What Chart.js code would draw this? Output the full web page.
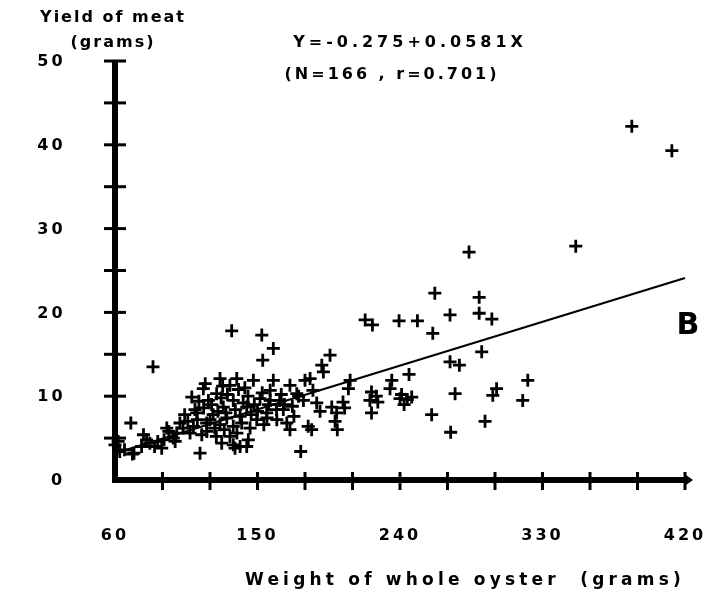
<!DOCTYPE html>
<html><head><meta charset="utf-8">
<script src="https://cdn.jsdelivr.net/npm/chart.js@4.4.0/dist/chart.umd.min.js"></script>
<style>html,body{margin:0;padding:0;background:#fff;}#wrap{width:704px;height:606px;position:relative;}</style>
</head><body><div id="wrap"><canvas id="c" width="704" height="606"></canvas></div>
<script>
// Weight of whole oyster (g)
const weightX = [
 60,62,63,66,70,71,72,76.8,78,80,82,84,85,87,89.5,91,92.7,94,96.8,98,99,101,103,104,106,107.4,108.5,110.5,
 109.5,111.6,112,113,113.7,114.8,115.8,116,117,117.9,118,119,120,121,122,123,124,124.2,125,126.3,126.3,127,127.4,128,128.4,129,130,130.6,131,132.6,132.6,133.7,134.7,134.7,134.7,135.8,136,136.9,137,138,139,139,140,141,142,143.2,143.2,144,144.2,145.3,146,147.4,148,149.5,150,151.6,152.7,153,153.3,154,155.8,156,157,158,158,160,160,162,162.2,
 164,165,166.3,167,168.5,170.5,170.5,172,173,174.8,176,177.3,179,180,182,183.2,184.2,185,187.4,189.5,190.6,191.6,195.8,196.9,199,200,200.4,204,205,207.4,208.5,
 218,222.6,222,221,225,226,222,233.7,234.8,239.4,240,241,242.6,244.6,245.7,247.4,251,260,260.7,262,271.6,271.6,272,274.8,277.5,283.6,290,290,291.6,293.7,298,298.6,301,317.5,320.7,351,386.4,411.7
];
// Yield of meat (g)
const yieldY = [
 4.2,4.6,3.4,3.6,6.8,3.1,3.2,4.0,5.4,4.8,4.4,13.5,4.0,4.6,3.8,4.8,6.2,5.8,5.0,4.6,5.6,6.8,6.2,7.8,7.0,5.6,9.9,8.4,
 6.4,8.0,7.2,9.4,3.2,5.4,10.9,8.6,11.5,6.8,5.8,9.5,7.2,9.0,7.8,6.2,5.2,10.3,8.2,12.1,6.6,9.8,4.4,11.2,8.7,6.0,8.0,7.4,10.2,11.3,5.2,17.8,9.5,6.4,4.2,3.8,8.4,12.1,5.6,10.8,7.6,4.0,6.8,9.2,11.0,8.7,4.0,10.0,4.8,6.2,7.8,11.9,9.0,7.2,8.2,9.7,17.3,10.4,14.3,6.6,8.0,7.4,9.0,10.7,9.5,15.7,11.9,8.4,7.2,
 9.5,10.2,8.4,9.0,6.8,11.3,6.0,8.8,7.6,10.3,10.0,3.4,9.5,11.9,6.4,12.1,6.0,10.7,9.2,8.2,13.7,12.9,14.9,8.7,7.0,8.0,6.0,9.3,8.6,10.9,11.9,
 19.1,18.5,10.5,9.5,10.0,9.3,8.0,10.9,11.9,19.0,9.7,10.2,9.0,9.6,12.6,9.9,19.0,7.8,17.5,22.3,19.7,14.1,5.7,10.3,13.7,27.2,21.8,19.9,15.3,7.0,19.2,10.1,10.9,9.5,11.9,27.9,42.2,39.3
];
// Regression line endpoints
const fitLineX = [60, 420];
const fitLineY = [3.2, 24.1];
const xTickLabels = [60, 150, 240, 330, 420];
const yTickLabels = [0, 10, 20, 30, 40, 50];
const yAxisTitle = ['Yield of meat', '(grams)'];
const xAxisTitle = 'Weight of whole oyster  (grams)';
const equationLines = ['Y=-0.275+0.0581X', '(N=166 , r=0.701)'];
const panelLabel = 'B';

const FONT = "'DejaVu Sans'";
const scatterData = weightX.map((x, i) => ({x: x, y: yieldY[i]}));
const lineData = fitLineX.map((x, i) => ({x: x, y: fitLineY[i]}));

const spacing = {
  id: 'spacing',
  beforeLayout(c) { c.ctx.letterSpacing = '3px'; },
  beforeDraw(c) { c.ctx.letterSpacing = '3px'; }
};

const axesPlugin = {
  id: 'axesPlugin',
  beforeDatasetsDraw(c) {
    const ctx = c.ctx, xs = c.scales.x, ys = c.scales.y;
    const x0 = xs.getPixelForValue(60), y0 = ys.getPixelForValue(0);
    const xEnd = xs.getPixelForValue(420), yTop = ys.getPixelForValue(50);
    ctx.save();
    ctx.strokeStyle = '#000';
    ctx.lineWidth = 6;
    ctx.lineJoin = 'miter';
    ctx.beginPath();
    ctx.moveTo(x0, yTop - 1);
    ctx.lineTo(x0, y0);
    ctx.lineTo(xEnd + 3, y0);
    ctx.stroke();
    ctx.lineWidth = 3;
    ys.ticks.forEach(t => {
      if (t.value === 0) return;
      const py = ys.getPixelForValue(t.value);
      ctx.beginPath();
      ctx.moveTo(x0 - 11, py);
      ctx.lineTo(x0 + 11, py);
      ctx.stroke();
    });
    xs.ticks.forEach(t => {
      if (t.value === 60) return;
      const px = xs.getPixelForValue(t.value);
      ctx.beginPath();
      ctx.moveTo(px, y0 - 8);
      ctx.lineTo(px, y0 + 10);
      ctx.stroke();
    });
    ctx.fillStyle = '#000';
    ctx.beginPath();
    ctx.moveTo(xEnd + 8, y0);
    ctx.lineTo(xEnd + 1, y0 - 5);
    ctx.lineTo(xEnd + 1, y0 + 5);
    ctx.closePath();
    ctx.fill();
    ctx.restore();
  }
};

const textPlugin = {
  id: 'textPlugin',
  afterDraw(c) {
    const ctx = c.ctx, ys = c.scales.y;
    ctx.save();
    ctx.fillStyle = '#000';
    ctx.textBaseline = 'middle';
    ctx.textAlign = 'center';
    ctx.letterSpacing = '3px';
    ctx.font = 'bold 16px ' + FONT;
    yTickLabels.forEach(v => {
      const s = String(v);
      ctx.fillText(s, 64.5 - 6.5 * s.length, ys.getPixelForValue(v) + 1);
    });
    ctx.letterSpacing = '2px';
    ctx.fillText(yAxisTitle[0], 113, 18);
    ctx.fillText(yAxisTitle[1], 113, 43);
    ctx.letterSpacing = '4px';
    ctx.fillText(equationLines[0], 410, 43);
    ctx.letterSpacing = '3px';
    ctx.fillText(equationLines[1], 392, 75);
    ctx.letterSpacing = '4.2px';
    ctx.font = 'bold 17px ' + FONT;
    ctx.fillText(xAxisTitle, 465, 581);
    ctx.letterSpacing = '0px';
    ctx.font = 'bold 30px ' + FONT;
    ctx.fillText(panelLabel, 688, 326);
    ctx.restore();
  }
};

new Chart(document.getElementById('c'), {
  type: 'scatter',
  data: {
    datasets: [
      {
        label: 'Oysters',
        data: scatterData,
        pointStyle: 'cross',
        pointRadius: 6.5,
        pointHoverRadius: 6.5,
        borderWidth: 2.8,
        borderColor: '#000',
        backgroundColor: '#000',
        clip: false
      },
      {
        type: 'line',
        label: 'Fit',
        data: lineData,
        borderColor: '#000',
        borderWidth: 2.2,
        pointRadius: 0,
        fill: false,
        clip: false
      }
    ]
  },
  options: {
    responsive: false,
    animation: false,
    devicePixelRatio: 1,
    layout: {padding: {top: 61, right: 19, left: 0, bottom: 0}},
    plugins: {legend: {display: false}, tooltip: {enabled: false}, title: {display: false}},
    scales: {
      x: {
        type: 'linear', min: 60, max: 420,
        grid: {display: false, drawTicks: false},
        border: {display: false},
        ticks: {
          stepSize: 30, autoSkip: false, maxRotation: 0, padding: 46,
          color: '#000', font: {family: FONT, weight: 'bold', size: 16},
          callback: v => xTickLabels.includes(v) ? String(v) : ''
        },
        afterFit: s => { s.height = 126; s.paddingLeft = 0; s.paddingRight = 0; }
      },
      y: {
        type: 'linear', min: 0, max: 50,
        grid: {display: false, drawTicks: false},
        border: {display: false},
        ticks: {stepSize: 5, autoSkip: false, display: false},
        afterFit: s => { s.width = 115; s.paddingTop = 0; s.paddingBottom = 0; }
      }
    }
  },
  plugins: [spacing, axesPlugin, textPlugin]
});
</script>
</body></html>
